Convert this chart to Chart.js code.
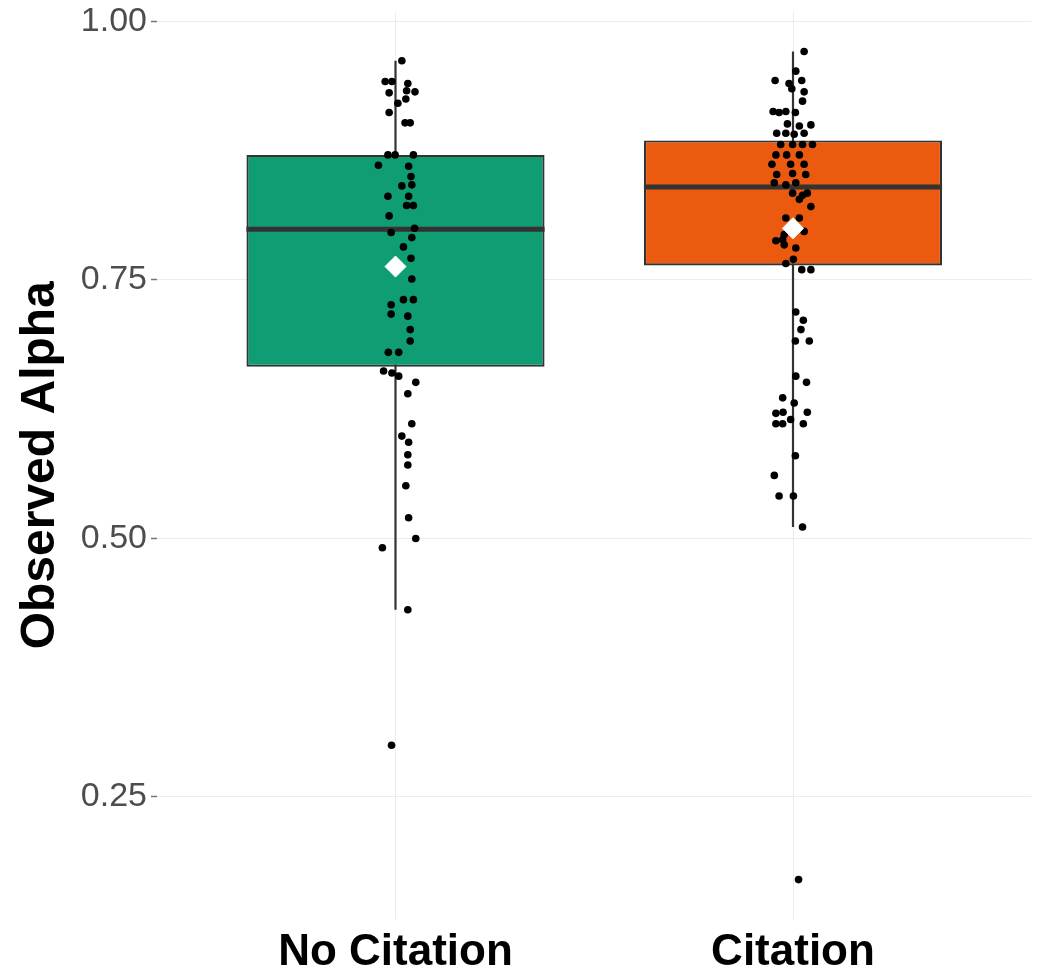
<!DOCTYPE html>
<html>
<head>
<meta charset="utf-8">
<script src="https://cdn.jsdelivr.net/npm/chart.js@4.4.1/dist/chart.umd.min.js"></script>
<style>
  html, body { margin: 0; padding: 0; background: #ffffff; }
  #wrap { width: 1043px; height: 967px; }
</style>
</head>
<body>
<div id="wrap"><canvas id="c" width="1043" height="967"></canvas></div>
<script>
// ---------- data ----------
const categories = ['No Citation', 'Citation'];
const yTicks = [0.25, 0.50, 0.75, 1.00];

const noCitationValues = [
  0.962, 0.942, 0.942, 0.940, 0.931, 0.933, 0.932, 0.921, 0.925, 0.912,
  0.902, 0.902, 0.871, 0.871, 0.871, 0.861, 0.860, 0.850, 0.841, 0.842,
  0.831, 0.831, 0.822, 0.822, 0.812, 0.796, 0.800, 0.791, 0.782, 0.771,
  0.751, 0.731, 0.731, 0.726, 0.717, 0.715, 0.702, 0.691, 0.680, 0.680,
  0.662, 0.660, 0.657, 0.651, 0.640, 0.611, 0.599, 0.593, 0.581, 0.571,
  0.551, 0.520, 0.500, 0.491, 0.431, 0.300
];
const noCitationJitter = [
  0.016, -0.026, -0.009, 0.031, -0.016, 0.028, 0.049, 0.006, 0.026, -0.016,
  0.024, 0.037, -0.019, -0.001, 0.045, -0.043, 0.033, 0.039, 0.016, 0.041,
  -0.019, 0.033, 0.028, 0.045, -0.016, -0.011, 0.048, 0.041, 0.020, 0.039,
  0.041, 0.020, 0.045, -0.011, -0.011, 0.031, 0.037, 0.037, -0.018, 0.008,
  -0.030, -0.009, 0.008, 0.051, 0.031, 0.041, 0.016, 0.033, 0.031, 0.031,
  0.026, 0.033, 0.051, -0.033, 0.031, -0.010
];

const citationValues = [
  0.971, 0.952, 0.943, 0.940, 0.943, 0.935, 0.932, 0.923, 0.913, 0.912,
  0.913, 0.912, 0.901, 0.900, 0.899, 0.892, 0.892, 0.891, 0.892, 0.881,
  0.881, 0.881, 0.881, 0.871, 0.871, 0.871, 0.862, 0.862, 0.862, 0.852,
  0.853, 0.852, 0.844, 0.842, 0.844, 0.834, 0.832, 0.834, 0.828, 0.821,
  0.810, 0.810, 0.794, 0.797, 0.788, 0.789, 0.784, 0.781, 0.770, 0.766,
  0.760, 0.760, 0.719, 0.711, 0.702, 0.691, 0.691, 0.657, 0.651, 0.636,
  0.631, 0.621, 0.622, 0.622, 0.611, 0.611, 0.615, 0.611, 0.580, 0.561,
  0.541, 0.541, 0.511, 0.170
];
const citationJitter = [
  0.028, 0.007, -0.045, -0.010, 0.022, -0.003, 0.028, 0.024, -0.050, -0.035,
  -0.018, 0.006, -0.014, 0.045, 0.016, -0.041, -0.018, 0.003, 0.028, -0.031,
  -0.001, 0.024, 0.049, -0.043, -0.016, 0.016, -0.053, -0.006, 0.028, -0.041,
  -0.001, 0.032, -0.047, -0.018, 0.007, -0.001, 0.024, 0.036, 0.016, 0.045,
  -0.018, 0.016, -0.022, 0.028, -0.043, -0.026, -0.022, 0.007, 0.001, -0.018,
  0.022, 0.045, 0.007, 0.026, 0.020, 0.006, 0.041, 0.007, 0.034, -0.026,
  0.003, -0.043, -0.025, 0.036, -0.043, -0.026, -0.006, 0.026, 0.006, -0.047,
  -0.035, 0.001, 0.024, 0.014
];

const boxQ1 = [0.666, 0.764];
const boxMedian = [0.799, 0.840];
const boxQ3 = [0.871, 0.885];
const whiskerLow = [0.431, 0.511];
const whiskerHigh = [0.962, 0.971];
const groupMeans = [0.763, 0.800];

// ---------- styling ----------
const boxColors = ['#0f9d73', '#eb5a0e'];
const FONT = '"Liberation Sans", Arial, Helvetica, sans-serif';
const BOX_WIDTH = 0.75;

const positions = categories.map((_, i) => i + 1);
const groupValues = [noCitationValues, citationValues];
const groupJitter = [noCitationJitter, citationJitter];

const pointData = [];
groupValues.forEach((vals, g) => {
  vals.forEach((v, k) => pointData.push({ x: positions[g] + groupJitter[g][k], y: v }));
});

const datasets = [];
// whiskers
positions.forEach((x, i) => {
  datasets.push({
    type: 'line',
    data: [{ x: x, y: whiskerLow[i] }, { x: x, y: whiskerHigh[i] }],
    borderColor: '#333333', borderWidth: 2.2, pointRadius: 0, order: 5
  });
});
// boxes
datasets.push({
  type: 'bar',
  data: positions.map((x, i) => ({ x: x, y: [boxQ1[i], boxQ3[i]] })),
  backgroundColor: boxColors,
  borderColor: '#333333', borderWidth: 2.2, borderSkipped: false,
  barPercentage: BOX_WIDTH, categoryPercentage: 1, order: 4
});
// medians
positions.forEach((x, i) => {
  datasets.push({
    type: 'line',
    data: [{ x: x - BOX_WIDTH / 2, y: boxMedian[i] }, { x: x + BOX_WIDTH / 2, y: boxMedian[i] }],
    borderColor: '#333333', borderWidth: 5, pointRadius: 0, order: 3
  });
});
// jittered points
datasets.push({
  type: 'scatter',
  data: pointData,
  backgroundColor: '#000000', borderWidth: 0, pointRadius: 3.8, order: 2
});
// means
datasets.push({
  type: 'scatter',
  data: positions.map((x, i) => ({ x: x, y: groupMeans[i] })),
  pointStyle: 'rectRot', backgroundColor: '#ffffff', borderColor: '#ffffff',
  borderWidth: 1, pointRadius: 10.5, order: 1
});

new Chart(document.getElementById('c'), {
  type: 'scatter',
  data: { datasets },
  options: {
    responsive: false,
    animation: false,
    devicePixelRatio: 1,
    layout: { padding: { top: 10, right: 8, left: 0, bottom: 0 } },
    plugins: { legend: { display: false }, tooltip: { enabled: false } },
    events: [],
    scales: {
      x: {
        type: 'linear', min: 0.4, max: 2.6, offset: false,
        afterBuildTicks: s => { s.ticks = positions.map(v => ({ value: v })); },
        afterFit: s => { s.height = 48; s.paddingLeft = 0; s.paddingRight = 0; },
        ticks: {
          callback: (v, idx) => categories[idx],
          font: { family: FONT, size: 44, weight: 'bold' },
          color: '#000000', padding: 7, maxRotation: 0, autoSkip: false
        },
        grid: { color: '#ececec', lineWidth: 1, drawTicks: false, offset: false },
        border: { display: false }
      },
      y: {
        type: 'linear', min: 0.1319, max: 1.0097,
        afterBuildTicks: s => { s.ticks = yTicks.map(v => ({ value: v })); },
        afterFit: s => { s.width = 157; s.paddingTop = 0; s.paddingBottom = 0; },
        ticks: {
          callback: v => Number(v).toFixed(2),
          font: { family: FONT, size: 34 },
          color: '#4d4d4d', padding: 4
        },
        grid: { color: '#ececec', lineWidth: 1, tickColor: '#777777', tickLength: 6, tickWidth: 1.5 },
        border: { display: false },
        title: {
          display: true, text: 'Observed Alpha', color: '#000000',
          font: { family: FONT, size: 48, weight: 'bold' },
          padding: { top: 12, bottom: 0 }
        }
      }
    }
  }
});
</script>
</body>
</html>
